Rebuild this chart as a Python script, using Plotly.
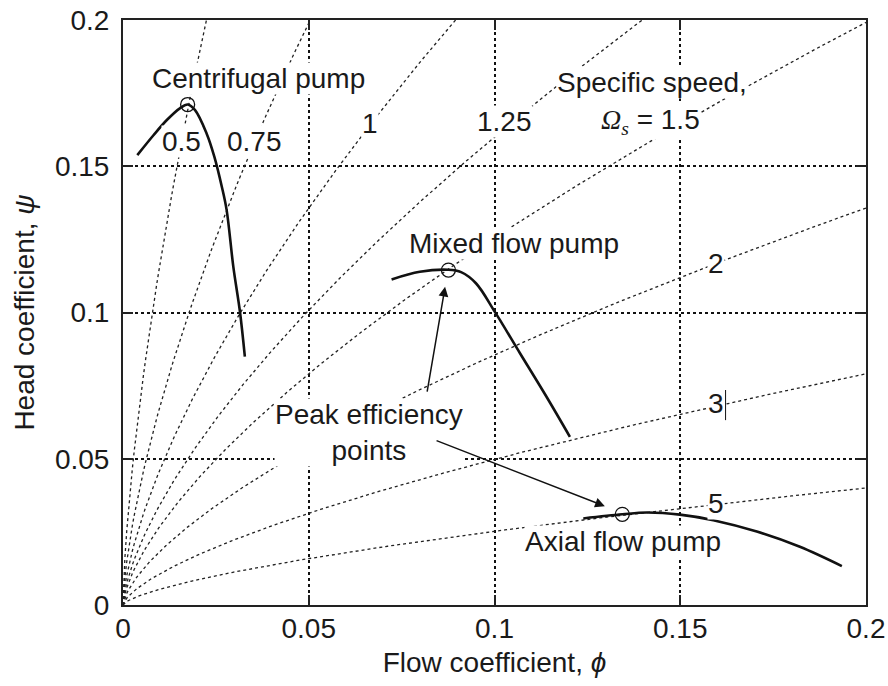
import numpy as np
import plotly.graph_objects as go

# ---------------- data ----------------
# specific speed values of the dotted reference curves (psi = phi^(2/3) / Omega^(4/3))
omega_values = [0.5, 0.75, 1, 1.25, 1.5, 2, 3, 5]

# pump characteristic curves
centrifugal_phi = [0.00385, 0.0082, 0.0118, 0.0153, 0.0174, 0.0194, 0.0225, 0.0246, 0.0266, 0.0279, 0.0297, 0.0315, 0.0328]
centrifugal_psi = [0.1538, 0.1606, 0.1658, 0.1698, 0.1711, 0.1692, 0.1612, 0.1532, 0.1430, 0.1350, 0.1156, 0.1001, 0.0849]

mixed_phi = [0.0723, 0.0799, 0.0876, 0.0910, 0.0950, 0.1001, 0.1069, 0.1140, 0.1203]
mixed_psi = [0.1113, 0.1139, 0.1146, 0.1138, 0.1100, 0.1002, 0.0860, 0.0712, 0.0575]

axial_phi = [0.1239, 0.1344, 0.1410, 0.1499, 0.1589, 0.1706, 0.1822, 0.1935]
axial_psi = [0.0296, 0.0310, 0.0316, 0.0309, 0.0290, 0.0251, 0.0199, 0.0133]

# peak efficiency points
peak_phi = [0.0174, 0.0876, 0.1344]
peak_psi = [0.1711, 0.1145, 0.0310]

# axis ticks
tick_vals = [0, 0.05, 0.1, 0.15, 0.2]
tick_text = ["0", "0.05", "0.1", "0.15", "0.2"]

FONT = "Liberation Sans, Arial, sans-serif"
TXT = "#1a1a1a"
FS = 28

fig = go.Figure()

# specific speed curves
phi_grid = np.linspace(0, 0.2, 400)
for om in omega_values:
    fig.add_trace(go.Scatter(
        x=phi_grid, y=phi_grid ** (2 / 3) / om ** (4 / 3),
        mode="lines", line=dict(color="#222", width=1.3, dash="dot"),
        hoverinfo="skip", showlegend=False))

# pump curves
for px, py in [(centrifugal_phi, centrifugal_psi), (mixed_phi, mixed_psi), (axial_phi, axial_psi)]:
    fig.add_trace(go.Scatter(
        x=px, y=py, mode="lines",
        line=dict(color="#111", width=2.6, shape="spline", smoothing=1.0),
        showlegend=False))

# peak circles
fig.add_trace(go.Scatter(
    x=peak_phi, y=peak_psi, mode="markers",
    marker=dict(symbol="circle-open", size=14, color="#111", line=dict(width=1.3)),
    showlegend=False))

def label(x, y, text, **kw):
    d = dict(x=x, y=y, xref="x", yref="y", text=text, showarrow=False,
             font=dict(family=FONT, size=FS, color=TXT),
             bgcolor="white", borderpad=0, xanchor="center", yanchor="middle")
    d.update(kw)
    fig.add_annotation(**d)

OMEGA = "<span style=\"font-family:'Liberation Serif'\"><i>Ω<sub>s</sub></i></span>"

label(0.0366, 0.1801, "Centrifugal pump")
label(0.0158, 0.1583, "0.5")
label(0.0355, 0.1583, "0.75")
label(0.0665, 0.1646, "1")
label(0.1028, 0.1652, "1.25")
label(0.1423, 0.1788, "Specific speed,")
label(0.1419, 0.1652, OMEGA + " = 1.5")
label(0.1052, 0.1236, "Mixed flow pump")
label(0.1596, 0.1168, "2")
label(0.1596, 0.0689, "3")
label(0.1596, 0.0348, "5")
label(0.1346, 0.0216, "Axial flow pump")
label(0.0662, 0.0590, "Peak efficiency<br>points")

# small vertical mark next to "3"
fig.add_shape(type="line", xref="x", yref="y", x0=0.1622, x1=0.1622, y0=0.0632, y1=0.0735,
              line=dict(color="#111", width=1))

# arrows
for hx, hy, tx, ty in [(0.0867, 0.1088, 0.0818, 0.0724), (0.1297, 0.0338, 0.0840, 0.0564)]:
    fig.add_annotation(x=hx, y=hy, ax=tx, ay=ty, xref="x", yref="y", axref="x", ayref="y",
                       text="", showarrow=True, arrowhead=2, arrowsize=1.3,
                       arrowwidth=1.5, arrowcolor="#111", standoff=0, startstandoff=0)

axis_common = dict(
    range=[0, 0.2], tickvals=tick_vals, ticktext=tick_text,
    showgrid=True, gridcolor="#111", gridwidth=1.6, griddash="dot",
    showline=True, linecolor="#222", linewidth=2, mirror="ticks",
    ticks="inside", ticklen=10, tickwidth=2, tickcolor="#222",
    zeroline=False, automargin=False, ticklabeloverflow="allow",
    tickfont=dict(family=FONT, size=FS, color=TXT),
)

fig.update_layout(
    width=888, height=686,
    margin=dict(l=123, r=22, t=20, b=81),
    plot_bgcolor="white", paper_bgcolor="white",
    xaxis=dict(**axis_common, ticklabelstandoff=-3,
               title=dict(text="Flow coefficient, <i>ϕ</i>", standoff=10,
                          font=dict(family=FONT, size=FS, color=TXT))),
    yaxis=dict(**axis_common, ticklabelstandoff=6,
               title=dict(text="Head coefficient, <i>ψ</i>", standoff=12,
                          font=dict(family=FONT, size=FS, color=TXT))),
)

# remove the default page margin so the 888x686 figure fills the window exactly
fig.write_html("out.html",
               config={"displayModeBar": False},
               post_script="document.body.style.margin='0';document.body.style.overflow='hidden';")
